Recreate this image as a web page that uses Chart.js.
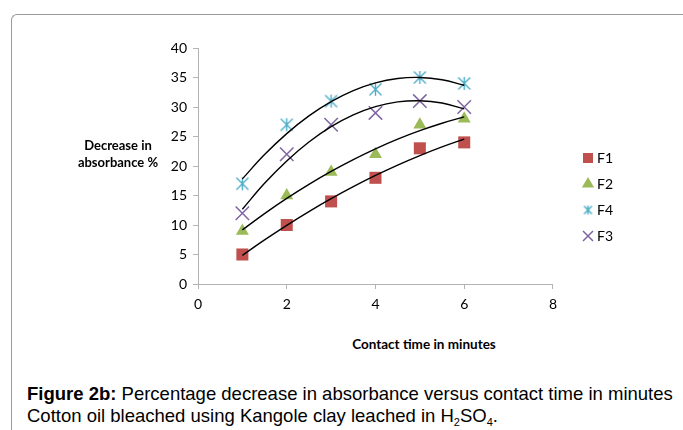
<!DOCTYPE html>
<html>
<head>
<meta charset="utf-8">
<script src="https://cdn.jsdelivr.net/npm/chart.js@4"></script>
<style>
body{margin:0;background:#fff;width:683px;height:430px;overflow:hidden;position:relative;font-family:"Liberation Sans",Arial,sans-serif;}
#frame{position:absolute;left:11px;top:14px;width:700px;height:430px;border-left:1px solid #9a9a9a;border-top:1px solid #9a9a9a;border-top-left-radius:6px;}
#wrap{position:absolute;left:0;top:0;width:683px;height:330px;}
.ytitle{position:absolute;left:58px;top:137px;width:120px;text-align:center;font:bold 13px Lato,sans-serif;line-height:17px;color:#000;}
.xtitle{position:absolute;left:324px;top:336px;width:200px;text-align:center;font:bold 13.5px Lato,sans-serif;color:#000;}
.caption{position:absolute;left:27px;top:383px;font-size:18.5px;line-height:22px;color:#000;}
.caption sub{font-size:11px;vertical-align:-4px;line-height:0;}
</style>
</head>
<body>
<div id="frame"></div>
<div id="wrap"><canvas id="chart" width="683" height="330"></canvas></div>
<div class="ytitle">Decrease in<br>absorbance %</div>
<div class="xtitle">Contact time in minutes</div>
<div class="caption"><b>Figure 2b:</b> Percentage decrease in absorbance versus contact time in minutes<br>Cotton oil bleached using Kangole clay leached in H<sub>2</sub>SO<sub>4</sub>.</div>

<script>
// ---------------- data ----------------
const timeMin = [1,2,3,4,5,6];
const f1 = [5,10,14,18,23,24];
const f2 = [9,15,19,22,27,28];
const f4 = [17,27,31,33,35,34];
const f3 = [12,22,27,29,31,30];

// trend curves
const trendX = [1,1.5,2,2.5,3,3.5,4,4.5,5,5.5,6];
const f1Trend = [4.86,7.47,9.94,12.27,14.46,16.5,18.4,20.16,21.77,23.24,24.57];
const f2Trend = [9.18,11.94,14.51,16.89,19.09,21.09,22.91,24.55,25.99,27.25,28.32];
const f4Trend = [17.82,21.94,25.49,28.49,30.91,32.78,34.09,34.83,35.01,34.62,33.68];
const f3Trend = [12.68,17.07,20.86,24.06,26.66,28.66,30.06,30.86,31.06,30.67,29.68];

const xTicks = [0,2,4,6,8];
const yTicks = [0,5,10,15,20,25,30,35,40];

function pts(xs, ys){
  return xs.map((x,i)=>({x:x,y:ys[i]}));
}

// excel style asterisk: an X with a vertical bar
function asterisk(color, size){
  const c = document.createElement("canvas");
  c.width = size; c.height = size;
  const g = c.getContext("2d");
  const m = size/2, a = size/2 - 1.5;
  g.strokeStyle = color;
  g.lineWidth = 1.4;
  g.beginPath();
  g.moveTo(m, m-a-0.5); g.lineTo(m, m+a+0.5);
  g.moveTo(m-a, m-a); g.lineTo(m+a, m+a);
  g.moveTo(m+a, m-a); g.lineTo(m-a, m+a);
  g.stroke();
  return c;
}

const f4Color = "#4BACC6";
const bigStar = asterisk(f4Color, 15);
const smallStar = asterisk(f4Color, 11);

function markerSet(label, ys, style, color, r){
  const filled = (style==="rect"||style==="triangle");
  return {
    label:label,
    data:pts(timeMin, ys),
    pointStyle:style,
    pointRadius:r,
    pointHoverRadius:r,
    backgroundColor:color,
    borderColor:color,
    pointBorderWidth:filled?0:1.5,
    borderWidth:filled?0:1.5,
    showLine:false,
    order:2
  };
}

function trendSet(ys){
  return {
    label:"trend",
    data:pts(trendX, ys),
    showLine:true,
    pointRadius:0,
    borderColor:"#000",
    borderWidth:1.4,
    tension:0.4,
    fill:false,
    order:1
  };
}

// move the legend to where it sits in the figure
const legendSpot = {
  id:"legendSpot",
  afterLayout(chart){
    const lg = chart.legend;
    const w = lg.right - lg.left, h = lg.bottom - lg.top;
    lg.left = 574; lg.right = 574 + w;
    lg.top = 139; lg.bottom = 139 + h;
  }
};

const gridGrey = "#b3b3b3";

new Chart(document.getElementById("chart"),{
  type:"scatter",
  data:{
    datasets:[
      markerSet("F1", f1, "rect", "#C0504D", 8.5),
      markerSet("F2", f2, "triangle", "#9BBB59", 7.5),
      markerSet("F4", f4, bigStar, f4Color, 7),
      markerSet("F3", f3, "crossRot", "#8064A2", 9.5),
      trendSet(f1Trend),
      trendSet(f2Trend),
      trendSet(f4Trend),
      trendSet(f3Trend)
    ]
  },
  options:{
    responsive:false,
    animation:false,
    events:[],
    layout:{padding:{left:0,top:48,right:81,bottom:0}},
    plugins:{
      tooltip:{enabled:false},
      legend:{
        position:"right",
        align:"start",
        labels:{
          usePointStyle:true,
          boxWidth:4,
          boxHeight:10,
          padding:12,
          color:"#000",
          font:{family:"Lato",size:14},
          filter:(item)=>item.text!=="trend",
          generateLabels:(chart)=>{
            const items = Chart.defaults.plugins.legend.labels.generateLabels(chart);
            items.forEach(it=>{ if(it.text==="F4") it.pointStyle = smallStar; });
            return items;
          }
        }
      }
    },
    scales:{
      x:{
        type:"linear",
        min:0,max:8,
        afterBuildTicks:(s)=>{s.ticks = xTicks.map(v=>({value:v}));},
        afterFit:(s)=>{s.height = 46;},
        grid:{drawOnChartArea:false,drawTicks:true,tickLength:5,color:gridGrey},
        border:{display:true,color:gridGrey,width:1},
        ticks:{color:"#000",padding:7,font:{family:"Lato",size:14}}
      },
      y:{
        type:"linear",
        min:0,max:40,
        afterBuildTicks:(s)=>{s.ticks = yTicks.map(v=>({value:v}));},
        afterFit:(s)=>{s.width = 198;},
        grid:{drawOnChartArea:false,drawTicks:true,tickLength:5,color:gridGrey},
        border:{display:true,color:gridGrey,width:1},
        ticks:{color:"#000",padding:6,font:{family:"Lato",size:14}}
      }
    }
  },
  plugins:[legendSpot]
});
</script>
</body>
</html>
